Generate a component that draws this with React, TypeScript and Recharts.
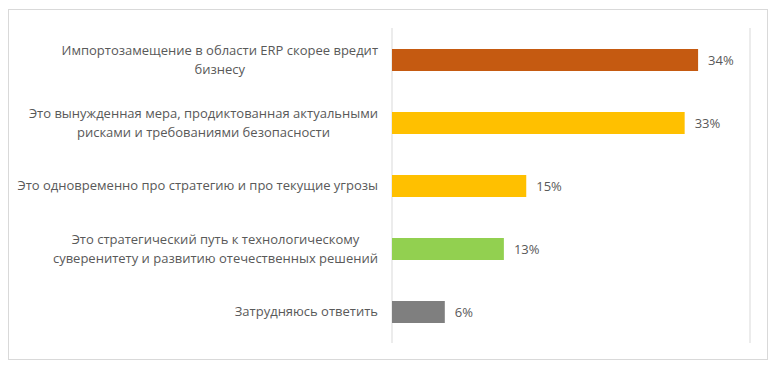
import { BarChart, Bar, XAxis, YAxis, CartesianGrid, Cell, LabelList } from 'recharts'

// ответы (переносы строк как на исходной картинке)
const categories = [
  'Импортозамещение в области ERP скорее вредит\nбизнесу',
  'Это вынужденная мера, продиктованная актуальными\nрисками и требованиями безопасности',
  'Это одновременно про стратегию и про текущие угрозы',
  'Это стратегический путь к технологическому\nсуверенитету и развитию отечественных решений',
  'Затрудняюсь ответить',
]
const values = [34.2, 32.7, 15.0, 12.5, 5.9]
const colors = ['#C55A11', '#FFC000', '#FFC000', '#92D050', '#7F7F7F']
const xTicks = [0, 5, 10, 15, 20, 25, 30, 35, 40]

const data = categories.map((name, i) => ({ name, value: values[i] }))

const FONT = '"Open Sans", "Noto Sans", sans-serif'
const TEXT = '#595959'
const FONT_SIZE = 13

let ctx: CanvasRenderingContext2D | null = null
function textWidth(s: string) {
  if (!ctx) ctx = document.createElement('canvas').getContext('2d')
  if (!ctx) return s.length * 7
  ctx.font = `${FONT_SIZE}px ${FONT}`
  return ctx.measureText(s).width
}

// подписи по центру блока, блок прижат вправо к оси
function CategoryTick({ x, y, payload }: any) {
  const lines = String(payload.value).split('\n')
  const lh = 19
  const w = Math.max(...lines.map(textWidth))
  const cx = x - w / 2
  return (
    <text x={cx} y={y} textAnchor="middle" fill={TEXT} fontSize={FONT_SIZE} fontFamily={FONT}>
      {lines.map((l, i) => (
        <tspan key={i} x={cx} y={y + (i - (lines.length - 1) / 2) * lh} dy="0.35em">
          {l}
        </tspan>
      ))}
    </text>
  )
}

export default function App() {
  return (
    <div style={{ width: 758, height: 349, border: '1px solid #D9D9D9', marginTop: 1, background: '#fff' }}>
      <BarChart
        width={758}
        height={349}
        data={data}
        layout="vertical"
        margin={{ top: 18, right: 17, bottom: 16, left: 0 }}
        barSize={22}
      >
        <CartesianGrid horizontal={false} stroke="#D9D9D9" strokeWidth={1} />
        <XAxis
          type="number"
          domain={[0, 40]}
          ticks={xTicks}
          tick={false}
          axisLine={false}
          tickLine={false}
          height={0}
        />
        <YAxis
          type="category"
          dataKey="name"
          width={383}
          axisLine={false}
          tickLine={false}
          tickMargin={8}
          tick={<CategoryTick />}
          interval={0}
        />
        <Bar dataKey="value" isAnimationActive={false}>
          {data.map((_, i) => (
            <Cell key={i} fill={colors[i]} />
          ))}
          <LabelList
            dataKey="value"
            position="right"
            offset={10}
            formatter={(v: any) => `${Math.round(Number(v))}%`}
            style={{ fill: TEXT, fontSize: FONT_SIZE, fontFamily: FONT }}
          />
        </Bar>
      </BarChart>
    </div>
  )
}
